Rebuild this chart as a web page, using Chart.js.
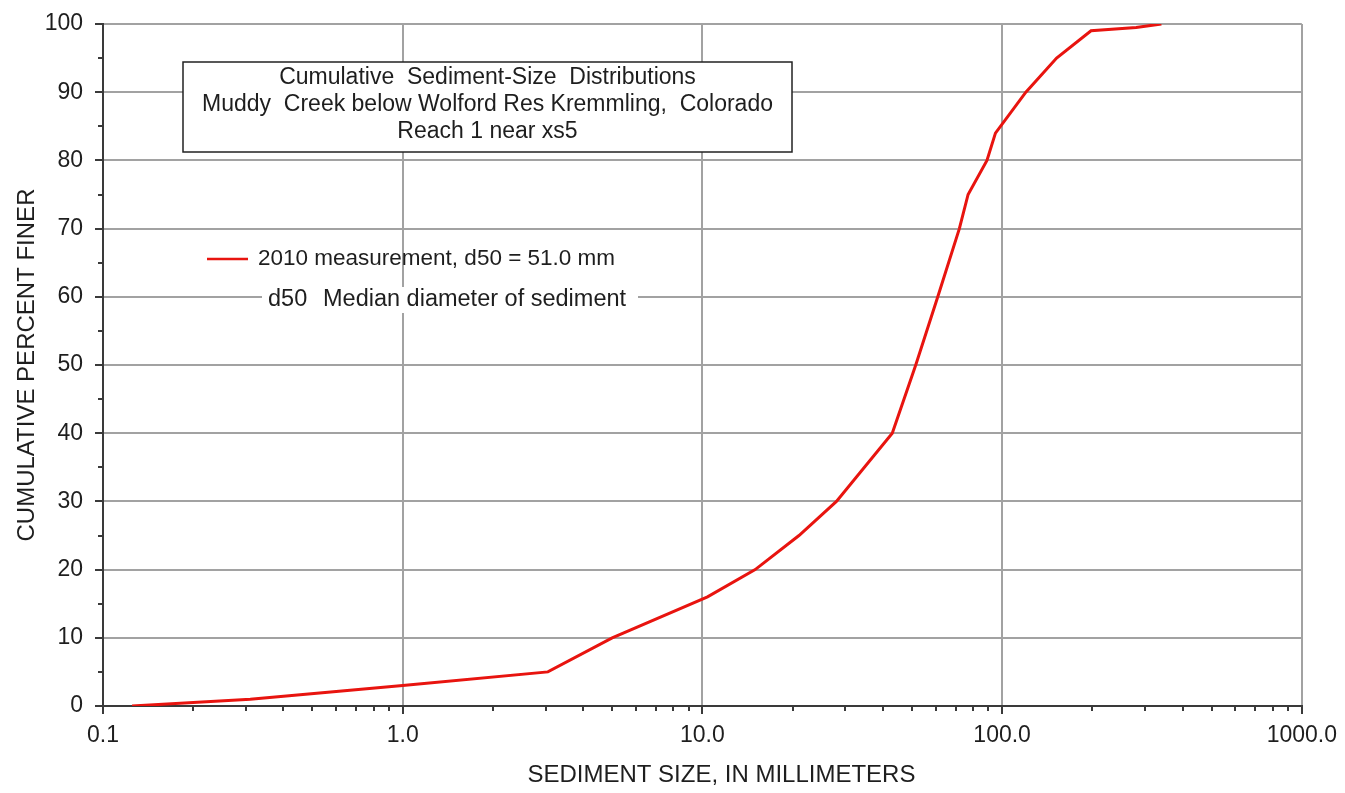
<!DOCTYPE html>
<html>
<head>
<meta charset="utf-8">
<script src="https://cdn.jsdelivr.net/npm/chart.js@4"></script>
<style>
    html, body { margin: 0; padding: 0; background: #fff; overflow: hidden; }
    #wrap { width: 1345px; height: 793px; }
</style>
</head>
<body>
<div id="wrap"><canvas id="sedChart"></canvas></div>
<script>
// sediment size (mm) and cumulative percent finer
const tamanhos = [0.125, 0.31, 1.0, 3.05, 5.0, 10.4, 15, 21, 28, 43, 51.5, 61, 72, 77, 89, 95, 120, 152, 198, 280, 340];
const percentuais = [0, 1, 3, 5, 10, 16, 20, 25, 30, 40, 50, 60, 70, 75, 80, 84, 90, 95, 99, 99.5, 100];

const xMajor = [0.1, 1, 10, 100, 1000];
const xLabels = ['0.1', '1.0', '10.0', '100.0', '1000.0'];
const yMajor = [0, 10, 20, 30, 40, 50, 60, 70, 80, 90, 100];
const yMinor = [5, 15, 25, 35, 45, 55, 65, 75, 85, 95];

const tituloLinhas = [
    'Cumulative  Sediment-Size  Distributions',
    'Muddy  Creek below Wolford Res Kremmling,  Colorado',
    'Reach 1 near xs5'
];
const serieLabel = '2010 measurement, d50 = 51.0 mm';
const notaSimbolo = 'd50';
const notaTexto = 'Median diameter of sediment';
const tituloX = 'SEDIMENT SIZE, IN MILLIMETERS';

const FONTE = '"Liberation Sans", Arial, sans-serif';
const corTexto = '#1e1e1e';
const corEixo = '#3a3a3a';
const corGrade = '#a2a2a2';
const corLinha = '#e8140f';

// minor x ticks 2..9 in every decade
const xMinor = [];
for (let d = 0; d < xMajor.length - 1; d++) {
    for (let m = 2; m <= 9; m++) xMinor.push(Number((xMajor[d] * m).toPrecision(3)));
}

const pontos = tamanhos.map((t, i) => ({ x: t, y: percentuais[i] }));

const decoracao = {
    id: 'decoracao',
    afterDraw(chart) {
        const ctx = chart.ctx;
        const xs = chart.scales.x;
        const ys = chart.scales.y;
        ctx.save();

        // short minor ticks
        ctx.strokeStyle = corEixo;
        ctx.lineWidth = 2;
        ctx.beginPath();
        xMinor.forEach(v => {
            const px = Math.round(xs.getPixelForValue(v));
            ctx.moveTo(px, ys.bottom);
            ctx.lineTo(px, ys.bottom + 5);
        });
        yMinor.forEach(v => {
            const py = Math.round(ys.getPixelForValue(v));
            ctx.moveTo(xs.left, py);
            ctx.lineTo(xs.left - 5, py);
        });
        ctx.stroke();

        // x axis title, sits a bit right of the plot centre in the original
        ctx.fillStyle = corTexto;
        ctx.font = '24px ' + FONTE;
        ctx.textAlign = 'center';
        ctx.textBaseline = 'middle';
        ctx.fillText(tituloX, (xs.left + xs.right) / 2 + 19, 775);

        // title box
        const bx = 183, by = 62, bw = 609, bh = 90;
        ctx.fillStyle = '#fff';
        ctx.fillRect(bx, by, bw, bh);
        ctx.strokeStyle = '#222';
        ctx.lineWidth = 1.5;
        ctx.strokeRect(bx, by, bw, bh);
        ctx.fillStyle = corTexto;
        ctx.font = '23px ' + FONTE;
        tituloLinhas.forEach((linha, i) => {
            ctx.fillText(linha, bx + bw / 2, by + 16 + i * 27);
        });

        // legend entry
        ctx.font = '22.5px ' + FONTE;
        ctx.strokeStyle = corLinha;
        ctx.lineWidth = 2.5;
        ctx.beginPath();
        ctx.moveTo(207, 259);
        ctx.lineTo(248, 259);
        ctx.stroke();
        ctx.textAlign = 'left';
        ctx.fillText(chart.data.datasets[0].label, 258, 259);

        // d50 note on white background
        ctx.font = '23.5px ' + FONTE;
        ctx.fillStyle = '#fff';
        ctx.fillRect(262, 287, 376, 26);
        ctx.fillStyle = corTexto;
        ctx.fillText(notaSimbolo, 268, 300);
        ctx.fillText(notaTexto, 323, 300);

        ctx.restore();
    }
};

const ctx = document.getElementById('sedChart').getContext('2d');
new Chart(ctx, {
    type: 'scatter',
    data: {
        datasets: [{
            label: serieLabel,
            data: pontos,
            showLine: true,
            borderColor: corLinha,
            backgroundColor: corLinha,
            borderWidth: 3,
            pointRadius: 0,
            tension: 0
        }]
    },
    options: {
        responsive: true,
        maintainAspectRatio: false,
        animation: false,
        layout: { padding: { top: 24, right: 43, left: 0, bottom: 0 } },
        plugins: {
            legend: { display: false },
            tooltip: { enabled: false }
        },
        scales: {
            x: {
                type: 'logarithmic',
                min: 0.1,
                max: 1000,
                afterBuildTicks: (scale) => {
                    scale.ticks = xMajor.map(v => ({ value: v }));
                },
                afterFit: (scale) => { scale.height = 87; },
                ticks: {
                    autoSkip: false,
                    maxRotation: 0,
                    padding: 8,
                    color: corTexto,
                    font: { family: FONTE, size: 23 },
                    callback: (v) => {
                        const i = xMajor.findIndex(m => Math.abs(m - v) / m < 1e-6);
                        return i >= 0 ? xLabels[i] : '';
                    }
                },
                grid: {
                    color: corGrade,
                    lineWidth: 2,
                    tickColor: corEixo,
                    tickLength: 8,
                    tickWidth: 2
                },
                border: { color: corEixo, width: 2 },
                title: { display: false }
            },
            y: {
                min: 0,
                max: 100,
                afterBuildTicks: (scale) => {
                    scale.ticks = yMajor.map(v => ({ value: v }));
                },
                afterFit: (scale) => { scale.width = 103; },
                ticks: {
                    autoSkip: false,
                    padding: 12,
                    color: corTexto,
                    font: { family: FONTE, size: 23, lineHeight: 1 }
                },
                grid: {
                    color: corGrade,
                    lineWidth: 2,
                    tickColor: corEixo,
                    tickLength: 8,
                    tickWidth: 2
                },
                border: { color: corEixo, width: 2 },
                title: {
                    display: true,
                    text: 'CUMULATIVE PERCENT FINER',
                    color: corTexto,
                    font: { family: FONTE, size: 24 },
                    padding: { top: 13, bottom: 0 }
                }
            }
        }
    },
    plugins: [decoracao]
});
</script>
</body>
</html>
